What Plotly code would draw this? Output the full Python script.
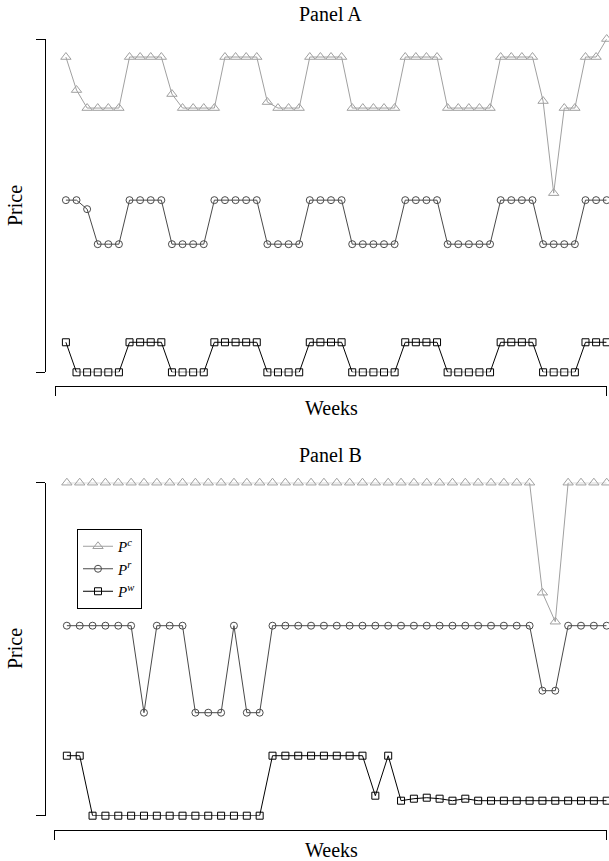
import plotly.graph_objects as go

# ---------------- data ----------------
weeks_a = list(range(1, 53))
pc_a = ([4.15, 3.82] + [3.64]*4 + [4.15]*4 + [3.78] + [3.64]*4 + [4.15]*4 + [3.70] + [3.64]*3
        + [4.15]*4 + [3.64]*5 + [4.15]*4 + [3.64]*5 + [4.15]*4 + [3.71, 2.79] + [3.64]*2
        + [4.15]*2 + [4.33])
pr_a = ([2.72]*2 + [2.63] + [2.28]*3 + [2.72]*4 + [2.28]*4 + [2.72]*5 + [2.28]*4 + [2.72]*4
        + [2.28]*5 + [2.72]*4 + [2.28]*5 + [2.72]*4 + [2.28]*4 + [2.72]*3)
pw_a = ([1.30] + [1.00]*5 + [1.30]*4 + [1.00]*4 + [1.30]*5 + [1.00]*4 + [1.30]*4 + [1.00]*5
        + [1.30]*4 + [1.00]*5 + [1.30]*4 + [1.00]*4 + [1.30]*3)

weeks_b = list(range(1, 44))
pc_b = [4.33]*37 + [3.23, 2.94] + [4.33]*4
pr_b = ([2.90]*6 + [2.03] + [2.90]*3 + [2.03]*3 + [2.90] + [2.03]*2 + [2.90]*21
        + [2.25]*2 + [2.90]*4)
pw_b = ([1.60]*2 + [1.00]*14 + [1.60]*8 + [1.20, 1.60, 1.15, 1.17, 1.18, 1.17, 1.15, 1.17]
        + [1.15]*11)

series_names = ["<i>P</i><sup><i>c</i></sup>", "<i>P</i><sup><i>r</i></sup>", "<i>P</i><sup><i>w</i></sup>"]
panel_titles = ["Panel A", "Panel B"]
x_label = "Weeks"
y_label = "Price"

# ---------------- styles ----------------
W, H = 609, 861
FONT = "Liberation Serif"
styles = [
    dict(color="#a0a0a0", symbol="triangle-up-open", size=9),
    dict(color="#4a4a4a", symbol="circle-open", size=7),
    dict(color="#000000", symbol="square-open", size=7),
]

def px(v):
    return v / W

def py(v):
    return 1 - v / H

fig = go.Figure()

panels = [
    dict(x=weeks_a, ys=[pc_a, pr_a, pw_a], xa="x", ya="y", legend=False),
    dict(x=weeks_b, ys=[pc_b, pr_b, pw_b], xa="x2", ya="y2", legend=True),
]
for p in panels:
    for name, yv, st in zip(series_names, p["ys"], styles):
        fig.add_trace(go.Scatter(
            x=p["x"], y=yv, mode="lines+markers", name=name,
            xaxis=p["xa"], yaxis=p["ya"], showlegend=p["legend"], cliponaxis=False,
            line=dict(color=st["color"], width=1),
            marker=dict(symbol=st["symbol"], size=st["size"], color=st["color"],
                        line=dict(color=st["color"], width=1)),
        ))

ymin_a = min(min(pc_a), min(pr_a), min(pw_a))
ymax_a = max(max(pc_a), max(pr_a), max(pw_a))
ymin_b = min(min(pc_b), min(pr_b), min(pw_b))
ymax_b = max(max(pc_b), max(pr_b), max(pw_b))

def xaxis(domain, pos, n):
    return dict(domain=domain, anchor="free", position=pos, range=[0, n],
                showgrid=False, zeroline=False, showline=True, linecolor="black", linewidth=1,
                ticks="outside", tickvals=[0, n], ticklen=9, tickwidth=1, tickcolor="black",
                showticklabels=False)

def yaxis(domain, lo, hi):
    return dict(domain=domain, anchor="free", position=px(45), range=[lo, hi],
                showgrid=False, zeroline=False, showline=True, linecolor="black", linewidth=1,
                ticks="outside", tickvals=[lo, hi], ticklen=9, tickwidth=1, tickcolor="black",
                showticklabels=False)

ann = []
for title, ty, wy, pyy in [(panel_titles[0], 14, 408, 206), (panel_titles[1], 455, 850, 649)]:
    ann.append(dict(text=title, x=px(330), y=py(ty), xref="paper", yref="paper",
                    xanchor="center", yanchor="middle",
                    showarrow=False, font=dict(size=20, family=FONT, color="black")))
    ann.append(dict(text=x_label, x=px(331), y=py(wy), xref="paper", yref="paper",
                    xanchor="center", yanchor="middle",
                    showarrow=False, font=dict(size=20, family=FONT, color="black")))
    ann.append(dict(text=y_label, x=px(15), y=py(pyy), xref="paper", yref="paper",
                    xanchor="center", yanchor="middle",
                    textangle=-90, showarrow=False, font=dict(size=20, family=FONT, color="black")))

fig.update_layout(
    width=W, height=H, margin=dict(l=0, r=0, t=0, b=0),
    paper_bgcolor="white", plot_bgcolor="white",
    font=dict(family=FONT, color="black"),
    xaxis=xaxis([px(55.3), px(606.7)], py(386), 52),
    yaxis=yaxis([py(372.3), py(39)], ymin_a, ymax_a),
    xaxis2=xaxis([px(54), px(606.7)], py(830), 43),
    yaxis2=yaxis([py(815.7), py(482.7)], ymin_b, ymax_b),
    annotations=ann,
    legend=dict(x=px(77), y=py(529), xanchor="left", yanchor="top",
                bordercolor="black", borderwidth=1, bgcolor="white",
                font=dict(size=15, family=FONT), tracegroupgap=0, itemwidth=30),
)

fig.write_html("out.html")
